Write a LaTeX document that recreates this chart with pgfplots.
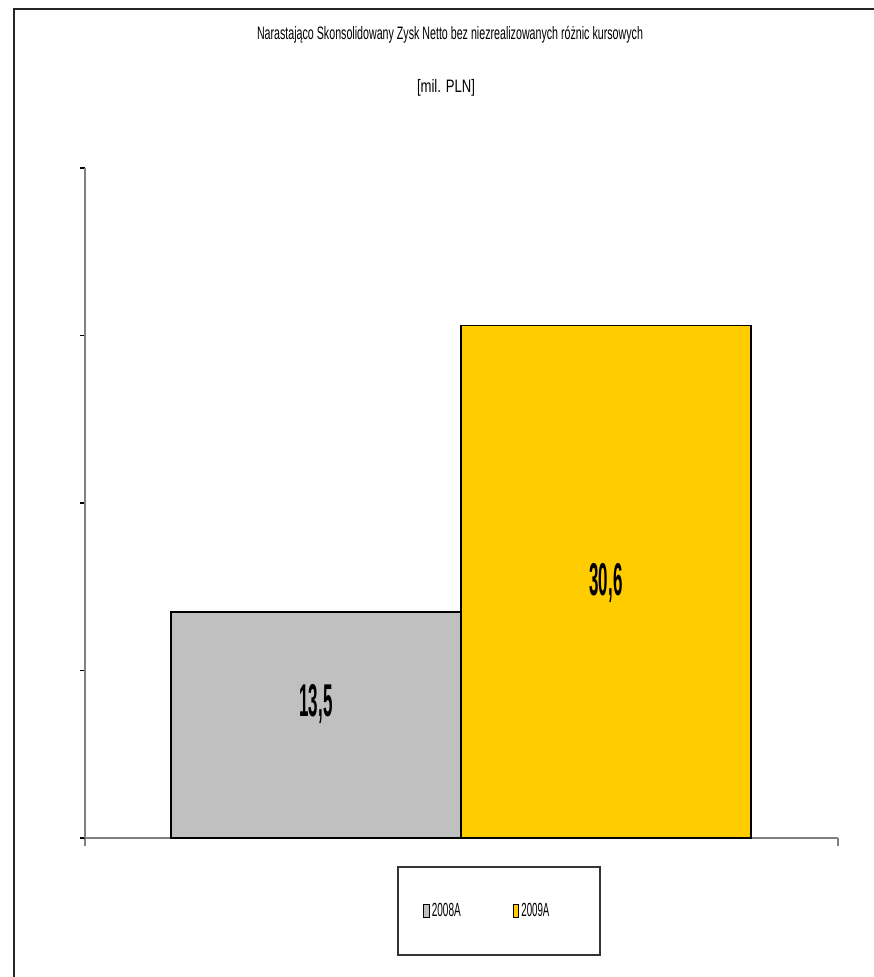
\documentclass[border=0pt]{standalone}
\usepackage{pgfplots}
\pgfplotsset{compat=1.18}
\usepackage{fontspec}
\setmainfont{Liberation Sans}
\usepackage{graphicx}
\definecolor{bargray}{HTML}{C0C0C0}
\definecolor{baryel}{HTML}{FFCC00}
\definecolor{axgray}{HTML}{808080}
\begin{document}
\begin{tikzpicture}[x=1pt,y=1pt]
\path[use as bounding box] (0,0) rectangle (874,977);
\draw[line width=2pt,color=black!85] (13.5,0) -- (13.5,967.5) -- (874,967.5);
\node at (450,942) {\resizebox{386pt}{\height}{\fontsize{18}{20}\selectfont Narastająco Skonsolidowany Zysk Netto bez niezrealizowanych różnic kursowych}};
\node at (446,889) {\resizebox{58pt}{\height}{\fontsize{18}{20}\selectfont [mil. PLN]}};
\draw[line width=1.5pt,color=black!80] (398,22) rectangle (600,110);
\begin{axis}[
  at={(85pt,139pt)}, anchor=south west,
  scale only axis, width=753pt, height=670pt,
  xmin=-0.7966, xmax=1.8, ymin=0, ymax=40,
  axis lines*=left,
  axis line style={draw=axgray, line width=2pt},
  ytick={0,10,20,30,40}, yticklabels={},
  xtick={-0.7966,1.8}, xticklabels={},
  tick align=outside,
  major tick length=5pt,
  ytick style={draw=black, line width=1.5pt},
  xtick style={draw=axgray, line width=2pt, /pgfplots/major tick length=8pt},
  bar width=1, bar shift=0pt,
  legend columns=2,
  legend style={at={(0.4489,-0.109)}, anchor=west, draw=none, fill=none, inner sep=0pt,
    font=\fontsize{19}{20}\selectfont,
    /tikz/every even column/.append style={column sep=50pt}},
  legend image code/.code={\draw[#1,line width=1.1pt] (0pt,-6.5pt) rectangle (5.5pt,6.5pt);},
  clip=false,
]
\addplot[ybar, fill=bargray, draw=black, line width=1.5pt] coordinates {(0,13.5)};
\addlegendentry{\resizebox{29pt}{\height}{2008A}}
\addplot[ybar, fill=baryel, draw=black, line width=1.5pt] coordinates {(1,30.6)};
\addlegendentry{\resizebox{28pt}{\height}{2009A}}
\node at (axis cs:0,8.0) {\resizebox{33pt}{\height}{\fontsize{46}{48}\selectfont\bfseries 13,5}};
\node at (axis cs:1,15.2) {\resizebox{33pt}{\height}{\fontsize{46}{48}\selectfont\bfseries 30,6}};
\end{axis}
\end{tikzpicture}
\end{document}
